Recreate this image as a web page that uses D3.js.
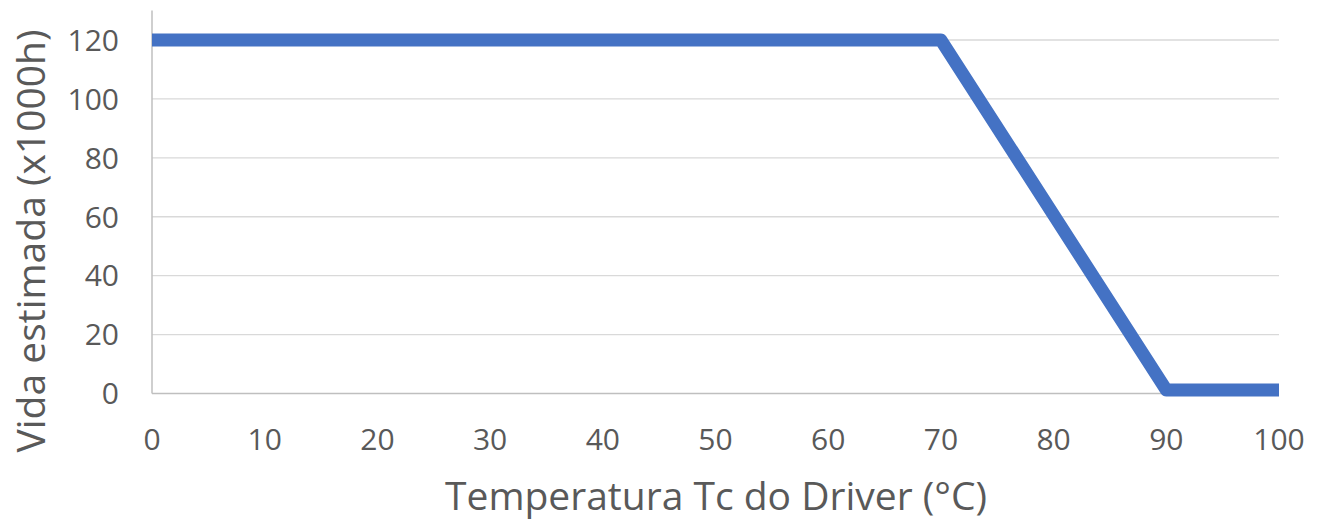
<!DOCTYPE html>
<html><head><meta charset="utf-8">
<script src="https://cdn.jsdelivr.net/npm/d3@7"></script>
<style>body{margin:0;background:#fff}text{font-family:"Open Sans",sans-serif;fill:#595959}</style>
</head><body><svg id="c" width="1323" height="523"></svg>
<script>
const temps = [0, 70, 90, 100];
const life = [120, 120, 1.2, 1.2];
const xTicks = [0,10,20,30,40,50,60,70,80,90,100];
const yTicks = [0,20,40,60,80,100,120];
const xTitle = "Temperatura Tc do Driver (°C)";
const yTitle = "Vida estimada (x1000h)";

const svg = d3.select("#c");
const x = d3.scaleLinear().domain([0,100]).range([152,1279]);
const y = d3.scaleLinear().domain([0,120]).range([393.5,40]);

// gridlines
svg.append("g").selectAll("line").data(yTicks.filter(d=>d>0)).join("line")
  .attr("x1",x(0)).attr("x2",x(100)).attr("y1",d=>y(d)).attr("y2",d=>y(d))
  .attr("stroke","#d9d9d9").attr("stroke-width",1.3);
// baseline
svg.append("line").attr("x1",x(0)).attr("x2",x(100)).attr("y1",y(0)).attr("y2",y(0))
  .attr("stroke","#bfbfbf").attr("stroke-width",1.5);
// left axis line
svg.append("line").attr("x1",x(0)).attr("x2",x(0)).attr("y1",y(130)).attr("y2",y(0))
  .attr("stroke","#bfbfbf").attr("stroke-width",1.5);

// tick labels
svg.append("g").selectAll("text").data(yTicks).join("text")
  .attr("x",119).attr("y",d=>y(d)).attr("dy","0.36em").attr("text-anchor","end")
  .attr("font-size",30).text(d=>d);
svg.append("g").selectAll("text").data(xTicks).join("text")
  .attr("x",d=>x(d)).attr("y",439).attr("dy","0.36em").attr("text-anchor","middle")
  .attr("font-size",30).text(d=>d);

// line
const pts = temps.map((t,i)=>[t,life[i]]);
svg.append("path").datum(pts)
  .attr("d",d3.line().x(d=>x(d[0])).y(d=>y(d[1])))
  .attr("fill","none").attr("stroke","#4472c4").attr("stroke-width",13)
  .attr("stroke-linejoin","round").attr("stroke-linecap","butt");

// titles
svg.append("text").attr("x",716).attr("y",496).attr("dy","0.36em").attr("text-anchor","middle")
  .attr("font-size",39).text(xTitle);
svg.append("text").attr("transform","translate(31,241) rotate(-90)").attr("dy","0.36em")
  .attr("text-anchor","middle").attr("font-size",39).text(yTitle);
</script></body></html>
